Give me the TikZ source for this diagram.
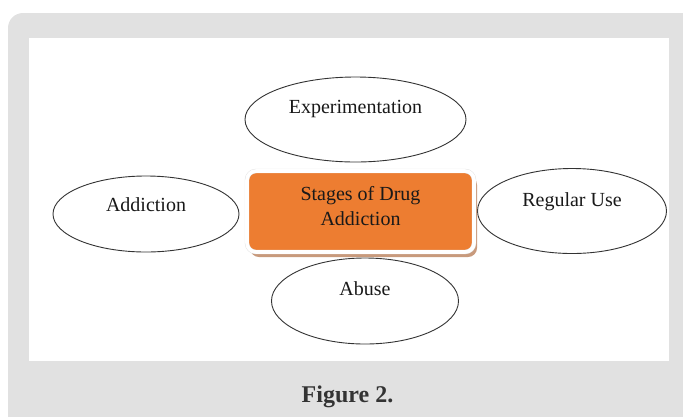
\documentclass[tikz,border=0pt]{standalone}
\usepackage{fontspec}
\setmainfont{Liberation Serif}
\usetikzlibrary{shapes.geometric,shadows}
\definecolor{panelgray}{HTML}{E1E1E1}
\definecolor{hubfill}{HTML}{ED7D31}
\definecolor{hubshadow}{HTML}{C89A7C}
\definecolor{captiongray}{HTML}{333333}
\begin{document}
\begin{tikzpicture}[x=1pt, y=-1pt, font=\fontsize{20}{24.3}\selectfont, line join=round, line cap=round,
	stage/.style={ellipse, draw=black!80, line width=0.9pt, fill=white, inner sep=0pt},
	stagetext/.style={anchor=base, inner sep=0pt, text=black!90},
	hub/.style={rectangle, rounded corners=9pt, fill=hubfill, draw=black!12, line width=0.4pt, double=white, double distance=3.6pt, minimum width=227pt, minimum height=81pt, inner sep=0pt,
		drop shadow={shadow xshift=3pt, shadow yshift=-5pt, fill=hubshadow, opacity=1}},
	hubtext/.style={align=center, inner sep=0pt, text=black!90}]
	\useasboundingbox (0,0) rectangle (683,416);
	\clip (0,0) rectangle (683,416);
	\fill[panelgray, rounded corners=15pt] (8,13) rectangle (700,430);
	\fill[white] (29,38) rectangle (669,361);
	\path
	(355.5,119.5) coordinate (E)
	(146,214) coordinate (A)
	(572,211) coordinate (R)
	(365,301) coordinate (U)
	(360.5,211.5) coordinate (S);
	\foreach \c/\w/\h/\b/\t in {E/221/85/6.5/Experimentation, A/186/76/2.3/Addiction, R/189/85/4.3/Regular Use, U/187/86/5.3/Abuse} {
		\node[stage, minimum width=\w pt, minimum height=\h pt] (\c-e) at (\c) {};
		\node[stagetext] (\c-t) at ([yshift=\b pt]\c) {\t};
	}
	\node[hub] (S-b) at (S) {};
	\node[hubtext] (S-t) at (360.5,206) {Stages of Drug\\Addiction};
	\node[font=\fontsize{24}{28}\selectfont\bfseries, text=captiongray, anchor=base, inner sep=0pt] (cap) at (347.5,402) {Figure 2.};
\end{tikzpicture}
\end{document}
